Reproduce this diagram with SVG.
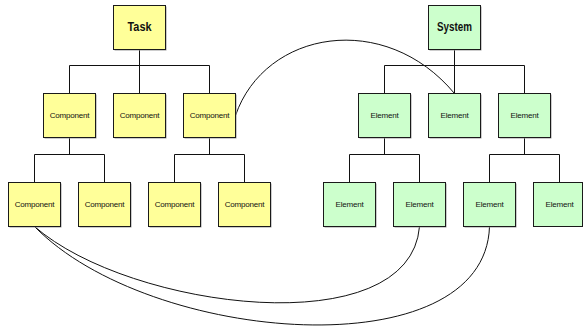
<svg xmlns="http://www.w3.org/2000/svg" width="583" height="327" viewBox="0 0 583 327">
  <defs>
    <style>
      .shadow { fill: #9a9a9a; }
      .task { fill: #ffff99; stroke: #1a1a1a; stroke-width: 1; }
      .sys { fill: #ccffcc; stroke: #1a1a1a; stroke-width: 1; }
      .wire { fill: none; stroke: #111; stroke-width: 1; }
      .big { font-family: "Liberation Sans", Arial, sans-serif; font-size: 12px; font-weight: bold; fill: #111; text-anchor: middle; }
      .small { font-family: "Liberation Sans", Arial, sans-serif; font-size: 8px; fill: #111; text-anchor: middle; letter-spacing: -0.2px; }
    </style>
  </defs>
  <rect width="583" height="327" fill="#ffffff"/>

  <!-- tree lines and cross links -->
  <g id="connectors">
    <!-- Task tree -->
    <path class="wire" d="M139.5,49.5 V65.5 M69.5,65.5 H209.5 M69.5,65.5 V93.5 M139.5,65.5 V93.5 M209.5,65.5 V93.5"/>
    <path class="wire" d="M69.5,137.5 V154.5 M34.5,154.5 H104.5 M34.5,154.5 V182.5 M104.5,154.5 V182.5"/>
    <path class="wire" d="M209.5,137.5 V154.5 M174.5,154.5 H244.5 M174.5,154.5 V182.5 M244.5,154.5 V182.5"/>
    <!-- System tree -->
    <path class="wire" d="M454.5,49.5 V65.5 M384.5,65.5 H524.5 M384.5,65.5 V93.5 M454.5,65.5 V93.5 M524.5,65.5 V93.5"/>
    <path class="wire" d="M384.5,137.5 V154.5 M349.5,154.5 H419.5 M349.5,154.5 V182.5 M419.5,154.5 V182.5"/>
    <path class="wire" d="M524.5,137.5 V154.5 M489.5,154.5 H559.5 M489.5,154.5 V182.5 M559.5,154.5 V182.5"/>
    <!-- cross links -->
    <path class="wire" d="M235.5,115.5 C265,30 385,10 454.5,93.5"/>
    <path class="wire" d="M34.5,226.5 C130,310 410,345 419.5,226.5"/>
    <path class="wire" d="M34.5,226.5 C150,345 485,370 489.5,226.5"/>
  </g>

  <!-- Task side -->
  <g id="task">
    <rect class="shadow" x="114.5" y="6.5" width="52" height="44"/>
    <rect class="task" x="113.5" y="5.5" width="52" height="44"/>
    <text class="big" x="139.5" y="31" textLength="24" lengthAdjust="spacingAndGlyphs">Task</text>
  </g>
  <g id="comp-1">
    <rect class="shadow" x="44.5" y="94.5" width="52" height="44"/>
    <rect class="task" x="43.5" y="93.5" width="52" height="44"/>
    <text class="small" x="69.5" y="118">Component</text>
  </g>
  <g id="comp-2">
    <rect class="shadow" x="114.5" y="94.5" width="52" height="44"/>
    <rect class="task" x="113.5" y="93.5" width="52" height="44"/>
    <text class="small" x="139.5" y="118">Component</text>
  </g>
  <g id="comp-3">
    <rect class="shadow" x="184.5" y="94.5" width="52" height="44"/>
    <rect class="task" x="183.5" y="93.5" width="52" height="44"/>
    <text class="small" x="209.5" y="118">Component</text>
  </g>
  <g id="comp-1-1">
    <rect class="shadow" x="9.5" y="183.5" width="52" height="44"/>
    <rect class="task" x="8.5" y="182.5" width="52" height="44"/>
    <text class="small" x="34.5" y="207">Component</text>
  </g>
  <g id="comp-1-2">
    <rect class="shadow" x="79.5" y="183.5" width="52" height="44"/>
    <rect class="task" x="78.5" y="182.5" width="52" height="44"/>
    <text class="small" x="104.5" y="207">Component</text>
  </g>
  <g id="comp-3-1">
    <rect class="shadow" x="149.5" y="183.5" width="52" height="44"/>
    <rect class="task" x="148.5" y="182.5" width="52" height="44"/>
    <text class="small" x="174.5" y="207">Component</text>
  </g>
  <g id="comp-3-2">
    <rect class="shadow" x="219.5" y="183.5" width="52" height="44"/>
    <rect class="task" x="218.5" y="182.5" width="52" height="44"/>
    <text class="small" x="244.5" y="207">Component</text>
  </g>

  <!-- System side -->
  <g id="system">
    <rect class="shadow" x="429.5" y="6.5" width="52" height="44"/>
    <rect class="sys" x="428.5" y="5.5" width="52" height="44"/>
    <text class="big" x="454.5" y="31" textLength="35" lengthAdjust="spacingAndGlyphs">System</text>
  </g>
  <g id="elem-1">
    <rect class="shadow" x="359.5" y="94.5" width="52" height="44"/>
    <rect class="sys" x="358.5" y="93.5" width="52" height="44"/>
    <text class="small" x="384.5" y="118">Element</text>
  </g>
  <g id="elem-2">
    <rect class="shadow" x="429.5" y="94.5" width="52" height="44"/>
    <rect class="sys" x="428.5" y="93.5" width="52" height="44"/>
    <text class="small" x="454.5" y="118">Element</text>
  </g>
  <g id="elem-3">
    <rect class="shadow" x="499.5" y="94.5" width="52" height="44"/>
    <rect class="sys" x="498.5" y="93.5" width="52" height="44"/>
    <text class="small" x="524.5" y="118">Element</text>
  </g>
  <g id="elem-1-1">
    <rect class="shadow" x="324.5" y="183.5" width="52" height="44"/>
    <rect class="sys" x="323.5" y="182.5" width="52" height="44"/>
    <text class="small" x="349.5" y="207">Element</text>
  </g>
  <g id="elem-1-2">
    <rect class="shadow" x="394.5" y="183.5" width="52" height="44"/>
    <rect class="sys" x="393.5" y="182.5" width="52" height="44"/>
    <text class="small" x="419.5" y="207">Element</text>
  </g>
  <g id="elem-3-1">
    <rect class="shadow" x="464.5" y="183.5" width="52" height="44"/>
    <rect class="sys" x="463.5" y="182.5" width="52" height="44"/>
    <text class="small" x="489.5" y="207">Element</text>
  </g>
  <g id="elem-3-2">
    <rect class="sys" x="533.5" y="182.5" width="49" height="44"/>
    <text class="small" x="559.5" y="207">Element</text>
  </g>
</svg>
